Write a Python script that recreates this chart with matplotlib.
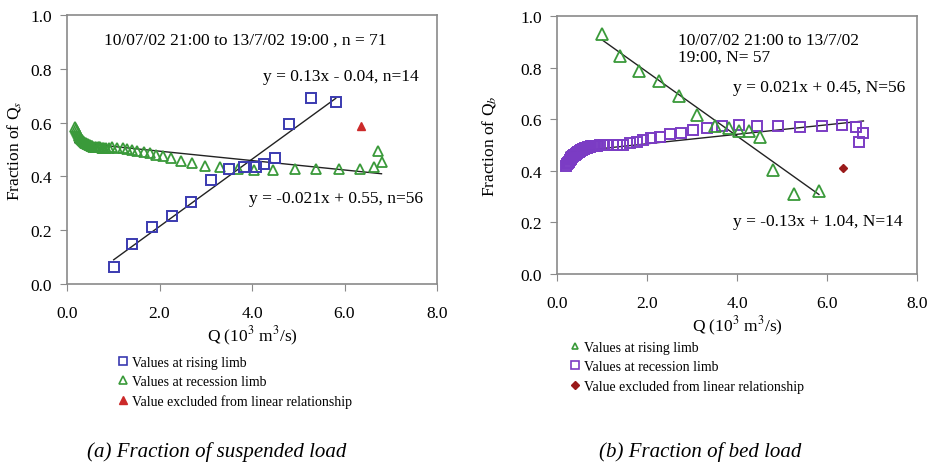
import matplotlib.pyplot as plt
import numpy as np
from matplotlib.lines import Line2D

plt.rcParams['font.family'] = ['Liberation Serif', 'DejaVu Serif']
plt.rcParams['mathtext.fontset'] = 'stix'

# (a) suspended load
sus_rise_x = [1.01, 1.41, 1.83, 2.28, 2.69, 3.11, 3.51, 3.83, 4.09, 4.27, 4.49, 4.81, 5.27, 5.81]
sus_rise_y = [0.064, 0.149, 0.211, 0.254, 0.306, 0.385, 0.429, 0.436, 0.434, 0.446, 0.469, 0.594, 0.690, 0.678]
sus_rec_x = [0.17, 0.19, 0.21, 0.23, 0.25, 0.27, 0.29, 0.31, 0.33, 0.35, 0.37, 0.39, 0.41, 0.43, 0.45,
             0.47, 0.49, 0.51, 0.53, 0.55, 0.57, 0.60, 0.63, 0.66, 0.69, 0.72, 0.75, 0.78, 0.81, 0.85, 0.90,
             0.98, 1.09, 1.20, 1.30, 1.41, 1.52, 1.67, 1.79, 1.92, 2.07, 2.25, 2.46,
             2.70, 2.98, 3.31, 3.69, 4.04, 4.45, 4.92, 5.39, 5.88, 6.33, 6.64, 6.80, 6.73]
sus_rec_y = [0.585, 0.575, 0.567, 0.560, 0.554, 0.549, 0.544, 0.540, 0.536, 0.532, 0.529, 0.526, 0.523, 0.521, 0.519,
             0.517, 0.515, 0.514, 0.513, 0.512, 0.511, 0.510, 0.509, 0.509, 0.508, 0.508, 0.507, 0.507, 0.507, 0.506, 0.506,
             0.508, 0.506, 0.505, 0.502, 0.499, 0.496, 0.490, 0.486, 0.481, 0.475, 0.468, 0.458,
             0.449, 0.440, 0.434, 0.428, 0.424, 0.424, 0.428, 0.428, 0.428, 0.428, 0.434, 0.452, 0.496]
sus_excl_x = [6.35]
sus_excl_y = [0.586]

# (b) bed load
bed_rise_x = [1.01, 1.40, 1.83, 2.27, 2.70, 3.12, 3.51, 3.83, 4.05, 4.27, 4.50, 4.81, 5.27, 5.82]
bed_rise_y = [0.930, 0.846, 0.788, 0.747, 0.691, 0.616, 0.572, 0.565, 0.556, 0.556, 0.530, 0.404, 0.310, 0.320]
bed_rec_x = [0.20, 0.22, 0.24, 0.26, 0.28, 0.30, 0.32, 0.34, 0.36, 0.38, 0.40, 0.42, 0.44, 0.46, 0.48,
             0.50, 0.52, 0.54, 0.56, 0.58, 0.60, 0.62, 0.64, 0.66, 0.68, 0.70, 0.73, 0.76, 0.80, 0.84, 0.88,
             0.96, 1.04, 1.14, 1.24, 1.33, 1.47, 1.62, 1.77, 1.92, 2.09, 2.28, 2.50, 2.75,
             3.02, 3.33, 3.66, 4.05, 4.45, 4.90, 5.40, 5.88, 6.33, 6.64, 6.81, 6.71]
bed_rec_y = [0.418, 0.425, 0.431, 0.436, 0.441, 0.445, 0.449, 0.453, 0.457, 0.460, 0.463, 0.466, 0.469, 0.472, 0.474,
             0.476, 0.478, 0.480, 0.482, 0.484, 0.486, 0.487, 0.489, 0.490, 0.491, 0.492, 0.494, 0.495, 0.496, 0.497, 0.498,
             0.499, 0.499, 0.499, 0.500, 0.500, 0.501, 0.508, 0.513, 0.519, 0.526, 0.532, 0.542, 0.548,
             0.559, 0.566, 0.572, 0.579, 0.572, 0.572, 0.569, 0.572, 0.578, 0.569, 0.547, 0.510]
bed_excl_x = [6.35]
bed_excl_y = [0.41]

legend_labels = ["Values at rising limb", "Values at recession limb",
                 "Value excluded from linear relationship"]

fig = plt.figure(figsize=(9.34, 4.64), dpi=100)
ax1 = fig.add_axes([67/934, 1-285/464, 370/934, 269/464])
ax2 = fig.add_axes([557/934, 1-275/464, 360/934, 258/464])

blue = '#3a3ab0'
green = '#3a9a3a'
red = '#cc2a2a'
purple = '#7b3cc4'
darkred = '#9a1a1a'


def trend(ax, x, y):
    k, b = np.polyfit(x, y, 1)
    xs = np.array([min(x), max(x)])
    ax.plot(xs, k*xs + b, color='#222222', lw=1.0, zorder=3)


for ax in (ax1, ax2):
    ax.set_xlim(0, 8)
    ax.set_ylim(0, 1)
    ax.set_xticks(np.arange(0, 8.1, 2))
    ax.set_yticks(np.arange(0, 1.01, 0.2))
    ax.xaxis.set_major_formatter(plt.FormatStrFormatter('%.1f'))
    ax.yaxis.set_major_formatter(plt.FormatStrFormatter('%.1f'))
    for s in ax.spines.values():
        s.set_color('#8a8a8a')
        s.set_linewidth(1.2)
    ax.tick_params(direction='out', length=5, color='#8a8a8a', labelsize=12.5)
    ax.tick_params(axis='x', pad=10)
    ax.tick_params(axis='y', pad=6)
    ax.set_xlabel('Q (10$^3$ m$^3$/s)', fontsize=12.5, labelpad=2)

# panel (a)
ax1.plot(sus_rec_x, sus_rec_y, '^', mfc='none', mec=green, ms=7, mew=1.3, zorder=4)
ax1.plot(sus_rise_x, sus_rise_y, 's', mfc='none', mec=blue, ms=7.5, mew=1.4, zorder=4)
ax1.plot(sus_excl_x, sus_excl_y, '^', color=red, ms=6, zorder=4)
trend(ax1, sus_rise_x, sus_rise_y)
trend(ax1, sus_rec_x, sus_rec_y)
ax1.set_ylabel('Fraction of Q$_s$', fontsize=12.5, labelpad=5)
ax1.text(3.85, 0.91, '10/07/02 21:00 to 13/7/02 19:00 , n = 71', ha='center', va='center', fontsize=12.5)
ax1.text(7.6, 0.773, 'y = 0.13x - 0.04, n=14', ha='right', va='center', fontsize=12.5)
ax1.text(7.7, 0.32, 'y = -0.021x + 0.55, n=56', ha='right', va='center', fontsize=12.5)

# panel (b)
ax2.plot(bed_rec_x, bed_rec_y, 's', mfc='none', mec=purple, ms=7.5, mew=1.4, zorder=4)
ax2.plot(bed_rise_x, bed_rise_y, '^', mfc='none', mec=green, ms=8, mew=1.3, zorder=4)
ax2.plot(bed_excl_x, bed_excl_y, 'D', color=darkred, ms=4.5, zorder=4)
trend(ax2, bed_rise_x, bed_rise_y)
trend(ax2, bed_rec_x, bed_rec_y)
ax2.set_ylabel('Fraction of Q$_b$', fontsize=12.5, labelpad=16)
ax2.text(2.69, 0.875, '10/07/02 21:00 to 13/7/02\n19:00, N= 57', ha='left', va='center',
         fontsize=12.5, linespacing=1.0)
ax2.text(7.73, 0.725, 'y = 0.021x + 0.45, N=56', ha='right', va='center', fontsize=12.5)
ax2.text(7.69, 0.205, 'y = -0.13x + 1.04, N=14', ha='right', va='center', fontsize=12.5)

# legends
h1 = [Line2D([], [], ls='none', marker='s', mfc='none', mec=blue, ms=6, mew=1.2),
      Line2D([], [], ls='none', marker='^', mfc='none', mec=green, ms=6, mew=1.2),
      Line2D([], [], ls='none', marker='^', color=red, ms=6)]
fig.legend(h1, legend_labels, loc='upper left', bbox_to_anchor=(118/934, 1-357/464),
           frameon=False, fontsize=10, handlelength=0.7, handletextpad=0.3,
           labelspacing=0.45, borderpad=0, borderaxespad=0)
h2 = [Line2D([], [], ls='none', marker='^', mfc='none', mec=green, ms=5, mew=1.2),
      Line2D([], [], ls='none', marker='s', mfc='none', mec=purple, ms=6, mew=1.2),
      Line2D([], [], ls='none', marker='D', color=darkred, ms=4)]
fig.legend(h2, legend_labels, loc='upper left',
           bbox_to_anchor=(570/934, 1-342/464),
           frameon=False, fontsize=10, handlelength=0.7, handletextpad=0.3,
           labelspacing=0.45, borderpad=0, borderaxespad=0)

fig.text(217/934, 1-452/464, '(a) Fraction of suspended load', ha='center', va='center',
         fontsize=15, style='italic')
fig.text(700/934, 1-452/464, '(b) Fraction of bed load', ha='center', va='center',
         fontsize=15, style='italic')

fig.savefig('out.png', dpi=100)
